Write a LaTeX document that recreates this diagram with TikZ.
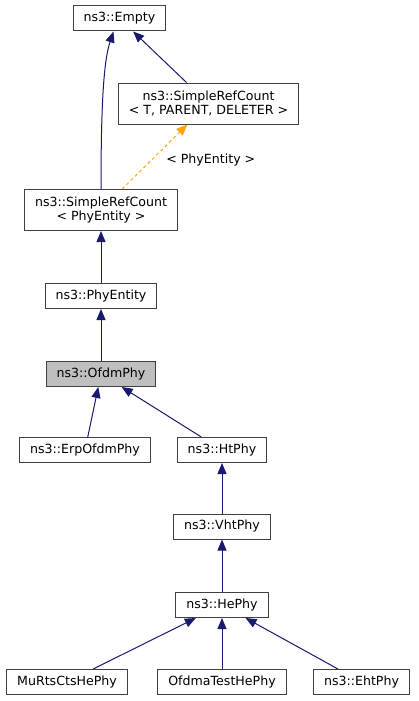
\documentclass[tikz,border=0pt]{standalone}
\usepackage{fontspec}
\setmainfont{DejaVu Sans}
\usetikzlibrary{arrows.meta}
\definecolor{navyedge}{HTML}{191970}
\definecolor{orangeedge}{HTML}{FFA500}
\begin{document}
\begin{tikzpicture}[x=1pt, y=-1pt,
  cls/.style={draw=black!75, line width=1pt, fill=white, inner xsep=10.5pt,
              inner ysep=0pt, minimum height=25pt, align=center,
              font=\fontsize{12.6}{14.5}\selectfont},
  cur/.style={cls, fill=black!25},
  edge/.style={navyedge, line width=1pt, -{Triangle[length=11pt, width=9pt]}},
  tmpl/.style={orangeedge, line width=1pt, dashed, -{Triangle[length=11pt, width=9pt]}}]
\useasboundingbox (0, 0) rectangle (419, 701);

\node[cls] (empty) at (119.5, 18.5) {ns3::Empty};
\node[cls, minimum height=41pt] (srct) at (208.5, 103.5) {ns3::SimpleRefCount\\< T, PARENT, DELETER >};
\node[cls, minimum height=41pt] (srcphy) at (101, 210) {ns3::SimpleRefCount\\< PhyEntity >};
\node[cls] (phyent) at (101, 296) {ns3::PhyEntity};
\node[cur] (ofdm) at (101, 374) {ns3::OfdmPhy};
\node[cls] (erp) at (85, 450) {ns3::ErpOfdmPhy};
\node[cls] (ht) at (222, 450) {ns3::HtPhy};
\node[cls] (vht) at (222, 526.5) {ns3::VhtPhy};
\node[cls] (he) at (222, 605) {ns3::HePhy};
\node[cls] (murts) at (67, 682) {MuRtsCtsHePhy};
\node[cls] (ofdma) at (222, 682) {OfdmaTestHePhy};
\node[cls] (eht) at (361.5, 682) {ns3::EhtPhy};

\draw[edge] (srct) -- (empty);
\draw[edge] (srcphy.north) .. controls (101, 100) and (104, 60) .. ([xshift=-6pt]empty.south);
\draw[tmpl] (srcphy) -- (srct) node[pos=0.45, right=11pt, text=black,
  font=\fontsize{12.6}{14.5}\selectfont] (tlabel) {< PhyEntity >};
\draw[edge] (phyent) -- (srcphy);
\draw[edge] (ofdm) -- (phyent);
\draw[edge] (erp) -- (ofdm);
\draw[edge] (ht) -- (ofdm);
\draw[edge] (vht) -- (ht);
\draw[edge] (he) -- (vht);
\draw[edge] (murts) -- (he);
\draw[edge] (ofdma) -- (he);
\draw[edge] (eht) -- (he);
\end{tikzpicture}
\end{document}
